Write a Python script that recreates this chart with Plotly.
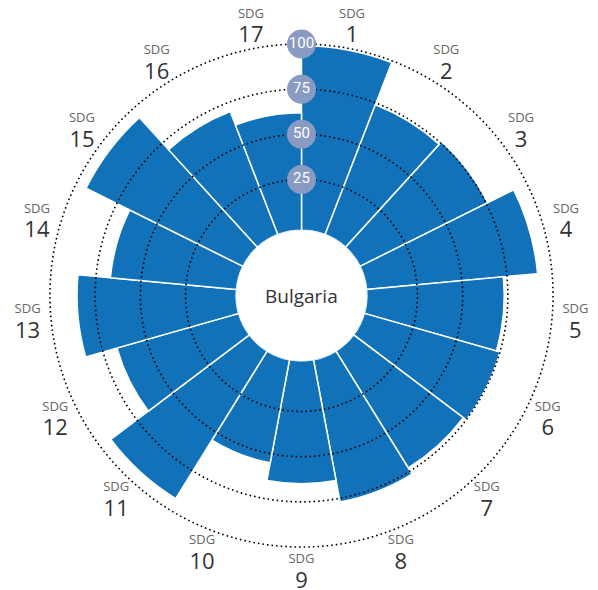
import plotly.graph_objects as go

country = "Bulgaria"
goals = [str(i) for i in range(1, 18)]
scores = [99, 74, 76, 92, 73, 75, 73, 77, 65, 55, 93, 67, 85, 67, 94, 70, 62]
grid_values = [25, 50, 75, 100]
grid_labels = ["25", "50", "75", "100"]

n = len(goals)
step = 360 / n
theta = [(i + 0.5) * step for i in range(n)]
r_min = -3
r_max = 116
label_r = 113
circle_theta = list(range(0, 361, 1))

fig = go.Figure()
fig.add_trace(go.Barpolar(
    r=[s - r_min for s in scores],
    base=r_min,
    theta=theta,
    width=step,
    marker=dict(color="#1172BA", line=dict(color="white", width=1.5)),
    hoverinfo="skip",
    showlegend=False,
))
for g in grid_values:
    fig.add_trace(go.Scatterpolar(
        r=[g] * len(circle_theta),
        theta=circle_theta,
        mode="lines",
        line=dict(color="black", width=1.6, dash="1.6px,3px"),
        hoverinfo="skip",
        showlegend=False,
    ))
fig.add_trace(go.Scatterpolar(
    r=[label_r] * n,
    theta=theta,
    mode="text",
    text=["<span style='font-size:13px;fill:#666666'>SDG</span><br>"
          "<span style='font-size:22px'>" + g + "</span>" for g in goals],
    textfont=dict(family="Open Sans", size=19, color="#333333"),
    textposition="middle center",
    cliponaxis=False,
    hoverinfo="skip",
    showlegend=False,
))
fig.add_trace(go.Scatterpolar(
    r=grid_values,
    theta=[0] * len(grid_values),
    mode="markers+text",
    marker=dict(size=29, color="#8A9BC3"),
    text=grid_labels,
    textfont=dict(family="Roboto", size=15, color="white"),
    textposition="middle center",
    cliponaxis=False,
    hoverinfo="skip",
    showlegend=False,
))

fig.update_layout(
    width=598, height=590,
    margin=dict(l=13, r=24, t=7, b=22),
    paper_bgcolor="white",
    plot_bgcolor="white",
    polar=dict(
        bgcolor="white",
        hole=0.233,
        radialaxis=dict(range=[r_min, r_max], showticklabels=False, ticks="",
                        showline=False, showgrid=False),
        angularaxis=dict(direction="clockwise", rotation=90, showticklabels=False,
                         ticks="", showline=False, showgrid=False),
    ),
    annotations=[dict(text=country, x=0.5, y=0.5, xref="paper", yref="paper",
                      showarrow=False, font=dict(family="Open Sans", size=19, color="#333333"))],
)

fig.write_html("out.html")
